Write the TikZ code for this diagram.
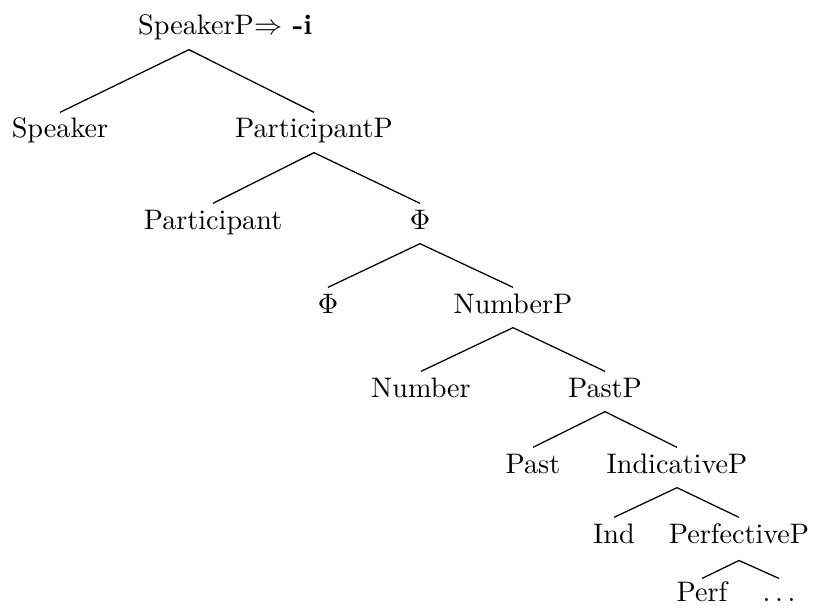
\documentclass[tikz,border=0pt]{standalone}
\begin{document}
\begin{tikzpicture}[x=0.3546pt, y=-0.3546pt,
  lbl/.style={anchor=base, inner sep=0pt, text height=8.9pt, text depth=5pt},
  branch/.style={line width=0.45pt}]
\useasboundingbox (0,0) rectangle (813,605);

% labels, placed by centre x and baseline y
\node[lbl] (root)   at (196,35)  {SpeakerP};
\node[anchor=base west, inner sep=0pt] (rootsuf) at (root.base east) {$\Rightarrow$ \textbf{-i}};
\coordinate (rootfork) at ([xshift=-2.5pt]root.south);
\node[lbl] (speaker) at (60,138)  {Speaker};
\node[lbl] (partP)   at (314,138) {ParticipantP};
\node[lbl] (part)    at (213,229) {Participant};
\node[lbl] (phiP)    at (420,229) {$\Phi$};
\node[lbl] (phi)     at (328,313) {$\Phi$};
\node[lbl] (numP)    at (513,313) {NumberP};
\node[lbl] (num)     at (421,397) {Number};
\node[lbl] (pastP)   at (605,397) {PastP};
\node[lbl] (past)    at (533,473) {Past};
\node[lbl] (indP)    at (677,473) {IndicativeP};
\node[lbl] (ind)     at (614,543) {Ind};
\node[lbl, text depth=6pt] (perfP) at (739,543) {PerfectiveP};
\node[lbl, text height=7.8pt] (perf) at (702,601) {Perf};
\node[lbl, text height=7.8pt] (dots) at (779,601) {$\ldots$};

% branches
\draw[branch] (rootfork) -- (speaker.north);
\draw[branch] (rootfork) -- (partP.north);
\draw[branch] (partP.south) -- (part.north);
\draw[branch] (partP.south) -- (phiP.north);
\draw[branch] (phiP.south) -- (phi.north);
\draw[branch] (phiP.south) -- (numP.north);
\draw[branch] (numP.south) -- (num.north);
\draw[branch] (numP.south) -- (pastP.north);
\draw[branch] (pastP.south) -- (past.north);
\draw[branch] (pastP.south) -- (indP.north);
\draw[branch] (indP.south) -- (ind.north);
\draw[branch] (indP.south) -- (perfP.north);
\draw[branch] (perfP.south) -- (perf.north);
\draw[branch] (perfP.south) -- (dots.north);
\end{tikzpicture}
\end{document}
